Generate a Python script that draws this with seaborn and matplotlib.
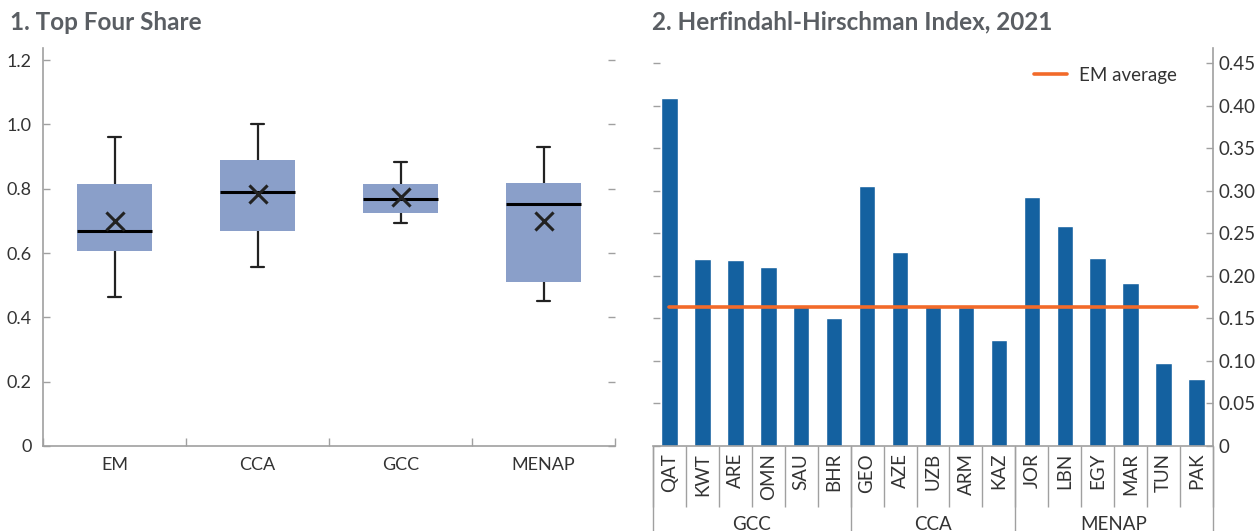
import numpy as np
import pandas as pd
import matplotlib
matplotlib.use("Agg")
import matplotlib.pyplot as plt
import matplotlib.transforms as mtransforms
import seaborn as sns

# Panel 1: summary of top-four share by region
regions = ["EM", "CCA", "GCC", "MENAP"]
whisker_low = [0.464, 0.557, 0.693, 0.450]
q1 = [0.607, 0.667, 0.726, 0.510]
median = [0.670, 0.790, 0.767, 0.752]
q3 = [0.816, 0.890, 0.816, 0.818]
whisker_high = [0.962, 1.002, 0.883, 0.929]
means = [0.699, 0.783, 0.774, 0.699]

# Panel 2: HHI 2021
countries = ["QAT", "KWT", "ARE", "OMN", "SAU", "BHR",
             "GEO", "AZE", "UZB", "ARM", "KAZ",
             "JOR", "LBN", "EGY", "MAR", "TUN", "PAK"]
hhi = [0.409, 0.220, 0.219, 0.210, 0.164, 0.150,
       0.305, 0.228, 0.165, 0.163, 0.125,
       0.293, 0.258, 0.221, 0.192, 0.098, 0.079]
groups = ["GCC", "CCA", "MENAP"]
group_sizes = [6, 5, 6]
em_average = 0.1636

box_color = "#8a9fc9"
bar_color = "#1461a0"
line_color = "#f26a2a"
tick_gray = "#a0a0a0"
text_dark = "#333333"
title_gray = "#5a5e63"
fs = 13

sns.set_style("white")
plt.rcParams["font.family"] = ["Lato", "DejaVu Sans"]

fig = plt.figure(figsize=(12.6, 5.31), dpi=100)
W, H = 1260, 531
ax1 = fig.add_axes([43 / W, 85 / H, (615 - 43) / W, (446 - 48) / H])
ax2 = fig.add_axes([653 / W, 85 / H, (1213 - 653) / W, (446 - 48) / H])

# ---- box plot ----
# five summary values per region -> quartiles come out exactly
rows = []
for i, r in enumerate(regions):
    for v in [whisker_low[i], q1[i], median[i], q3[i], whisker_high[i]]:
        rows.append({"region": r, "share": v})
df_box = pd.DataFrame(rows)

sns.boxplot(data=df_box, x="region", y="share", order=regions, ax=ax1,
            color=box_color, saturation=1, width=0.52, whis=(0, 100),
            showfliers=False, linecolor="black", linewidth=1.5,
            boxprops={"edgecolor": box_color, "linewidth": 0},
            medianprops={"color": "black", "linewidth": 2.2},
            whiskerprops={"color": "#222222", "linewidth": 1.6},
            capprops={"color": "#222222", "linewidth": 1.6},
            capwidths=0.09)
sns.scatterplot(x=np.arange(len(regions)), y=means, ax=ax1, marker="x",
                s=170, color="#222222", linewidth=2.2, zorder=5, legend=False)

ax1.set_xlim(-0.5, len(regions) - 0.5)
ax1.set_ylim(0, 1.2375)
ax1.set_yticks([0, 0.2, 0.4, 0.6, 0.8, 1.0, 1.2])
ax1.set_yticklabels(["0", "0.2", "0.4", "0.6", "0.8", "1.0", "1.2"])
ax1.set_xticks(np.arange(len(regions)))
ax1.set_xticklabels(regions)
ax1.set_xticks(np.arange(len(regions) + 1) - 0.5, minor=True)
ax1.set_xlabel("")
ax1.set_ylabel("")
for s in ["top", "right"]:
    ax1.spines[s].set_visible(False)
for s in ["left", "bottom"]:
    ax1.spines[s].set_color(tick_gray)
    ax1.spines[s].set_linewidth(1.2)
ax1.tick_params(axis="y", which="major", direction="in", length=5, width=1,
                color=tick_gray, left=True, right=True, labelsize=fs,
                labelcolor=text_dark, pad=8)
ax1.tick_params(axis="x", which="major", length=0, labelsize=fs,
                labelcolor=text_dark, pad=8)
ax1.tick_params(axis="x", which="minor", direction="in", length=6, width=1,
                color=tick_gray, bottom=True)

# ---- bar chart ----
df_bar = pd.DataFrame({"country": countries, "hhi": hhi})
sns.barplot(data=df_bar, x="country", y="hhi", order=countries, ax=ax2,
            color=bar_color, width=0.5, saturation=1)
sns.lineplot(x=np.arange(len(countries)), y=[em_average] * len(countries),
             ax=ax2, color=line_color, linewidth=2.6, label="EM average")

ax2.set_xlim(-0.5, len(countries) - 0.5)
ax2.set_ylim(0, 0.4676)
ax2.set_xlabel("")
ax2.set_ylabel("")
yt = np.arange(0, 0.451, 0.05)
ax2.set_yticks(yt)
ax2.set_yticklabels(["0"] + [f"{v:.2f}" for v in yt[1:]])
ax2.yaxis.tick_right()
ax2.set_xticks(np.arange(len(countries)))
ax2.set_xticklabels(countries, rotation=90)
ax2.set_xticks(np.arange(len(countries) + 1) - 0.5, minor=True)
for s in ["top", "left"]:
    ax2.spines[s].set_visible(False)
for s in ["right", "bottom"]:
    ax2.spines[s].set_color(tick_gray)
    ax2.spines[s].set_linewidth(1.2)
ax2.tick_params(axis="y", which="major", direction="in", length=5, width=1,
                color=tick_gray, left=True, right=True, labelleft=False,
                labelright=True, labelsize=fs + 0.5, labelcolor=text_dark, pad=4)
ax2.tick_params(axis="x", which="major", length=0, labelsize=fs + 0.5,
                labelcolor=text_dark, pad=5)
ax2.tick_params(axis="x", which="minor", direction="out", length=44, width=1,
                color=tick_gray, bottom=True)

# group separators and labels below the country labels
trans = mtransforms.blended_transform_factory(ax2.transData, ax2.transAxes)
edges = np.concatenate([[0], np.cumsum(group_sizes)]) - 0.5
for e in edges:
    ax2.plot([e, e], [0, -0.25], transform=trans, color=tick_gray, lw=1,
             clip_on=False)
for g, a, b in zip(groups, edges[:-1], edges[1:]):
    ax2.text((a + b) / 2, -0.196, g, transform=trans, ha="center", va="center",
             fontsize=fs + 0.5, color=text_dark)

leg = ax2.legend(loc="upper right", bbox_to_anchor=(0.965, 0.995), frameon=False,
                 fontsize=fs + 0.5, handlelength=1.8, handletextpad=0.6)
for t in leg.get_texts():
    t.set_color(text_dark)

fig.text(10 / W, 1 - 22 / H, "1. Top Four Share", fontsize=17.5, fontweight="bold",
         color=title_gray, va="center", ha="left")
fig.text(652 / W, 1 - 22 / H, "2. Herfindahl-Hirschman Index, 2021", fontsize=17.5,
         fontweight="bold", color=title_gray, va="center", ha="left")

fig.savefig("out.png", dpi=100)
